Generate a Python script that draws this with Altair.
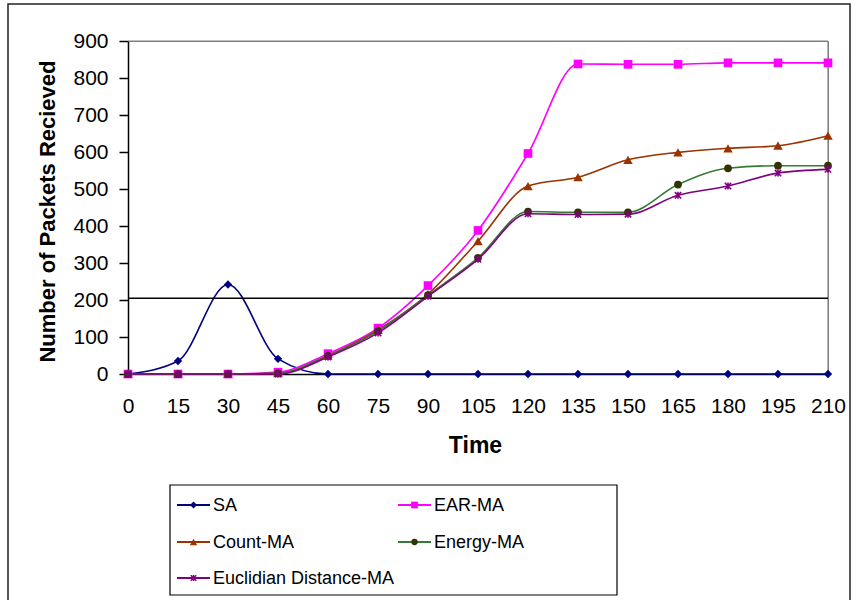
import altair as alt
import pandas as pd

# Simulation time steps and packets received per scheme
time = [0, 15, 30, 45, 60, 75, 90, 105, 120, 135, 150, 165, 180, 195, 210]
sa = [0, 35, 242, 41, 0, 0, 0, 0, 0, 0, 0, 0, 0, 0, 0]
ear_ma = [0, 0, 0, 5, 55, 124, 239, 388, 596, 838, 837, 837, 841, 841, 841]
count_ma = [0, 0, 0, 2, 50, 119, 216, 359, 508, 532, 579, 599, 610, 617, 644]
energy_ma = [0, 0, 0, 2, 49, 116, 213, 314, 439, 437, 437, 512, 556, 563, 563]
euclid_ma = [0, 0, 0, 0, 46, 111, 210, 310, 433, 431, 432, 483, 508, 543, 553]

series_names = ["SA", "EAR-MA", "Count-MA", "Energy-MA", "Euclidian Distance-MA"]
series_values = [sa, ear_ma, count_ma, energy_ma, euclid_ma]

y_ticks = list(range(0, 901, 100))
reference_level = [205]

line_colors = ["#000080", "#FF00FF", "#993300", "#357A35", "#800080"]
marker_colors = ["#000080", "#FF00FF", "#993300", "#333300", "#800080"]
asterisk = "M-1,-1L1,1M-1,1L1,-1M0,-1.1L0,1.1"
marker_shapes = ["diamond", "square", "triangle-up", "circle", asterisk]
marker_sizes = [70, 75, 90, 60, 40]
legend_marker_sizes = [50, 45, 55, 40, 30]

FONT = "Liberation Sans"

rows = [
    {"time": t, "series": name, "packets": v}
    for name, vals in zip(series_names, series_values)
    for t, v in zip(time, vals)
]
df = pd.DataFrame(rows)

x_scale = alt.Scale(domain=[0, 210], nice=False, zero=False)
y_scale = alt.Scale(domain=[0, 900], nice=False)

x_axis = alt.Axis(
    values=time, title="Time", grid=False, ticks=False,
    domainColor="black", domainWidth=1.5,
    labelFont=FONT, labelFontSize=21, labelColor="black", labelPadding=21,
    labelFlush=False, labelOverlap=False,
    titleFont=FONT, titleFontSize=23, titleFontWeight="bold", titleColor="black",
    titleX=347, titleY=71, titleAlign="center", titleBaseline="middle",
)
y_axis = alt.Axis(
    values=y_ticks, title="Number of Packets Recieved", grid=False,
    domainColor="black", domainWidth=1.5,
    tickColor="black", tickSize=9, tickWidth=1.5,
    labelFont=FONT, labelFontSize=21, labelColor="black", labelPadding=11,
    labelFlush=False, labelOverlap=False,
    titleFont=FONT, titleFontSize=22, titleFontWeight="bold", titleColor="black",
    titleX=-81, titleY=170, titleAngle=270, titleAlign="center", titleBaseline="middle",
)


def xq(field):
    return alt.X(field, type="quantitative", scale=x_scale, axis=x_axis)


def yq(field):
    return alt.Y(field, type="quantitative", scale=y_scale, axis=y_axis)


lines = alt.Chart(df).mark_line(interpolate="monotone", strokeWidth=1.6).encode(
    x=xq("time"),
    y=yq("packets"),
    color=alt.Color("series:N", scale=alt.Scale(domain=series_names, range=line_colors), legend=None),
)

point_layers = []
for name, shape, col, size in zip(series_names, marker_shapes, marker_colors, marker_sizes):
    filled = shape != asterisk
    point_layers.append(
        alt.Chart(df)
        .transform_filter(alt.FieldEqualPredicate(field="series", equal=name))
        .mark_point(shape=shape, filled=filled, size=size, color=col, opacity=1, strokeWidth=1.6)
        .encode(x=xq("time"), y=yq("packets"))
    )

ref_rule = alt.Chart(pd.DataFrame({"level": reference_level})).mark_rule(
    color="black", strokeWidth=1.5
).encode(y=yq("level"))

top_edge = alt.Chart(pd.DataFrame({"top": [900]})).mark_rule(color="#808080", strokeWidth=1.2).encode(
    y=yq("top")
)
right_edge = alt.Chart(pd.DataFrame({"right": [210]})).mark_rule(color="#808080", strokeWidth=1.2).encode(
    x=xq("right")
)

one = pd.DataFrame({"k": [0]})

# Outer chart border
frame = alt.Chart(one).mark_rect(fillOpacity=0, stroke="#222222", strokeWidth=1.5).encode(
    x=alt.value(-120), x2=alt.value(722), y=alt.value(-37), y2=alt.value(580)
)

# Legend block below the plot: two columns, three rows
LEG_LEFT, LEG_TOP, LEG_RIGHT, LEG_BOTTOM = 42, 444, 489, 554
COL_X = [49, 270]
ROW_Y = [464, 501, 537]
STUB = 33

legend_layers = [
    alt.Chart(one).mark_rect(fill="white", stroke="black", strokeWidth=1.2).encode(
        x=alt.value(LEG_LEFT), x2=alt.value(LEG_RIGHT),
        y=alt.value(LEG_TOP), y2=alt.value(LEG_BOTTOM),
    )
]
for i, (name, shape, lcol, mcol, msize) in enumerate(
    zip(series_names, marker_shapes, line_colors, marker_colors, legend_marker_sizes)
):
    cx = COL_X[i % 2]
    cy = ROW_Y[i // 2]
    legend_layers.append(
        alt.Chart(one).mark_rule(color=lcol, strokeWidth=2).encode(
            x=alt.value(cx), x2=alt.value(cx + STUB), y=alt.value(cy)
        )
    )
    legend_layers.append(
        alt.Chart(one).mark_point(
            shape=shape, filled=shape != asterisk, size=msize, color=mcol, opacity=1, strokeWidth=1.5
        ).encode(x=alt.value(cx + STUB / 2), y=alt.value(cy))
    )
    legend_layers.append(
        alt.Chart(one).mark_text(
            text=name, align="left", baseline="middle", font=FONT, fontSize=18, color="black"
        ).encode(x=alt.value(cx + STUB + 3), y=alt.value(cy + 1))
    )

chart = (
    alt.layer(lines, frame, top_edge, right_edge, ref_rule, *point_layers, *legend_layers)
    .properties(
        width=700, height=333,
        autosize=alt.AutoSizeParams(type="none"),
        padding={"left": 128, "top": 41, "right": 27, "bottom": 226},
        background="white",
    )
    .configure_view(stroke="#808080", strokeWidth=1)
)

chart.save("out.html", embed_options={"renderer": "svg", "actions": False})
